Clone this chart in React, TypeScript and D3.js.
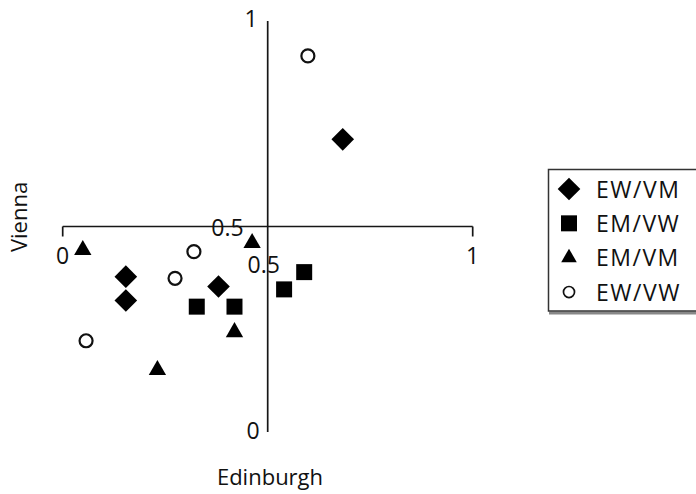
import React, { useEffect, useRef } from 'react';
import * as d3 from 'd3';

// Series (Edinburgh = x, Vienna = y)
const seriesNames = ['EW/VM', 'EM/VW', 'EM/VM', 'EW/VW'];
const ewvmX = [0.683, 0.154, 0.154, 0.380];
const ewvmY = [0.712, 0.378, 0.320, 0.354];
const emvwX = [0.327, 0.419, 0.540, 0.589];
const emvwY = [0.305, 0.305, 0.347, 0.389];
const emvmX = [0.049, 0.462, 0.419, 0.231];
const emvmY = [0.443, 0.460, 0.243, 0.151];
const ewvwX = [0.598, 0.320, 0.274, 0.057];
const ewvwY = [0.915, 0.439, 0.374, 0.222];

const xTickValues = [0, 0.5, 1];
const xTickLabels = ['0', '0.5', '1'];
const yTickValues = [1, 0.5, 0];
const yTickLabels = ['1', '0.5', '0'];

const FONT = "'Open Sans', 'DejaVu Sans', sans-serif";

type Shape = 'diamond' | 'square' | 'triangle' | 'circle';
const shapes: Shape[] = ['diamond', 'square', 'triangle', 'circle'];

const symbolPath = (shape: Shape): string => {
    if (shape === 'diamond') return d3.symbol(d3.symbolSquare, 256)() as string;
    if (shape === 'square') return d3.symbol(d3.symbolSquare, 256)() as string;
    if (shape === 'triangle') return d3.symbol(d3.symbolTriangle, 130)() as string;
    return d3.symbol(d3.symbolCircle, Math.PI * 6.5 * 6.5)() as string;
};

const App: React.FC = () => {
    const svgRef = useRef<SVGSVGElement>(null);
    const width = 696;
    const height = 494;

    useEffect(() => {
        if (!svgRef.current) return;
        const svg = d3.select(svgRef.current);
        svg.selectAll('*').remove();

        const x = d3.scaleLinear().domain([0, 1]).range([62.7, 472.7]);
        const y = d3.scaleLinear().domain([0, 1]).range([432, 21]);

        const axisColor = '#161616';

        // X axis line (at y = 0.5) with end ticks
        svg.append('line')
            .attr('x1', x(0)).attr('x2', x(1))
            .attr('y1', y(0.5)).attr('y2', y(0.5))
            .attr('stroke', axisColor).attr('stroke-width', 1.7);
        [0, 1].forEach(v => {
            svg.append('line')
                .attr('x1', x(v)).attr('x2', x(v))
                .attr('y1', y(0.5)).attr('y2', y(0.5) + 10)
                .attr('stroke', axisColor).attr('stroke-width', 1.7);
        });

        // Y axis line (at x = 0.5)
        svg.append('line')
            .attr('x1', x(0.5)).attr('x2', x(0.5))
            .attr('y1', y(1)).attr('y2', y(0))
            .attr('stroke', axisColor).attr('stroke-width', 1.7);

        // tick labels
        const xLabelDx = [0, -4, 0];
        const xLabelDy = [37, 46, 37];
        xTickValues.forEach((v, i) => {
            svg.append('text')
                .attr('x', x(v) + xLabelDx[i])
                .attr('y', y(0.5) + xLabelDy[i])
                .attr('text-anchor', 'middle')
                .style('font-family', FONT)
                .style('font-size', '23px')
                .attr('fill', '#111')
                .text(xTickLabels[i]);
        });
        const yLabelDx = [-10, -24, -8];
        const yLabelDy = [6, 9, 7];
        yTickValues.forEach((v, i) => {
            svg.append('text')
                .attr('x', x(0.5) + yLabelDx[i])
                .attr('y', y(v) + yLabelDy[i])
                .attr('text-anchor', 'end')
                .style('font-family', FONT)
                .style('font-size', '23px')
                .attr('fill', '#111')
                .text(yTickLabels[i]);
        });

        // axis titles
        svg.append('text')
            .attr('transform', 'translate(27,217) rotate(-90)')
            .attr('text-anchor', 'middle')
            .style('font-family', FONT)
            .style('font-size', '22px')
            .attr('fill', '#111')
            .text('Vienna');
        svg.append('text')
            .attr('x', 270)
            .attr('y', 485)
            .attr('text-anchor', 'middle')
            .style('font-family', FONT)
            .style('font-size', '22px')
            .attr('fill', '#111')
            .text('Edinburgh');

        // points
        const allX = [ewvmX, emvwX, emvmX, ewvwX];
        const allY = [ewvmY, emvwY, emvmY, ewvwY];
        const drawMark = (shape: Shape, cx: number, cy: number) => {
            const rot = shape === 'diamond' ? ' rotate(45)' : '';
            svg.append('path')
                .attr('d', symbolPath(shape))
                .attr('transform', `translate(${cx},${cy})${rot}`)
                .attr('fill', shape === 'circle' ? '#fff' : '#000')
                .attr('stroke', shape === 'circle' ? '#111' : 'none')
                .attr('stroke-width', 2.2);
        };
        shapes.forEach((shape, s) => {
            allX[s].forEach((vx, i) => drawMark(shape, x(vx), y(allY[s][i])));
        });

        // legend
        const lg = svg.append('g');
        lg.append('line')
            .attr('x1', 549).attr('x2', 700)
            .attr('y1', 313).attr('y2', 313)
            .attr('stroke', '#888').attr('stroke-width', 3);
        lg.append('rect')
            .attr('x', 548.5).attr('y', 169.5)
            .attr('width', 160).attr('height', 141.5)
            .attr('fill', '#fff')
            .attr('stroke', '#333').attr('stroke-width', 1.5);
        const legendY = d3.scalePoint<string>().domain(seriesNames).range([189, 292]);
        seriesNames.forEach((name, i) => {
            const ly = legendY(name) as number;
            drawMarkIn(lg, shapes[i], 569, ly);
            lg.append('text')
                .attr('x', 596)
                .attr('y', ly + 8.5)
                .style('font-family', FONT)
                .style('font-size', '23px')
                .style('letter-spacing', '1.5px')
                .attr('fill', '#111')
                .text(name);
        });

        function drawMarkIn(g: d3.Selection<SVGGElement, unknown, null, undefined>, shape: Shape, cx: number, cy: number) {
            const rot = shape === 'diamond' ? ' rotate(45)' : '';
            const scale = shape === 'circle' ? ' scale(0.85)' : shape === 'triangle' ? ' scale(0.9)' : '';
            g.append('path')
                .attr('d', symbolPath(shape))
                .attr('transform', `translate(${cx},${cy})${rot}${scale}`)
                .attr('fill', shape === 'circle' ? '#fff' : '#000')
                .attr('stroke', shape === 'circle' ? '#111' : 'none')
                .attr('stroke-width', 2);
        }
    }, []);

    return (
        <svg
            ref={svgRef}
            width={width}
            height={height}
            style={{ position: 'absolute', left: 0, top: 0, background: '#fff' }}
        />
    );
};

export default App;
